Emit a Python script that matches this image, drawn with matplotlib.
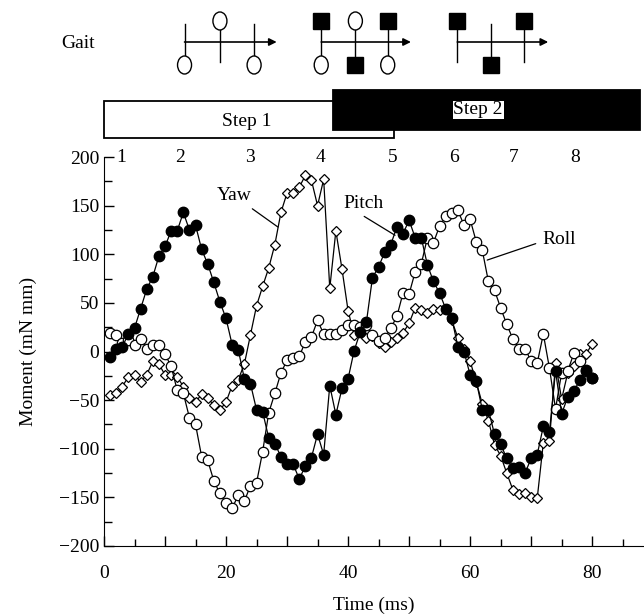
import numpy as np
import matplotlib
matplotlib.use("Agg")
import matplotlib.pyplot as plt
from matplotlib.patches import Rectangle, Ellipse
from matplotlib.ticker import MultipleLocator, FuncFormatter

plt.rcParams['font.family'] = ['Liberation Serif', 'DejaVu Serif']
plt.rcParams['font.size'] = 14

# time axis (ms), one sample per ms
t = np.arange(1, 81)

pitch = [-6, 3, 5, 18, 24, 44, 64, 77, 98, 108, 124, 124, 143, 125, 130, 105, 90, 71, 51, 34,
         7, 2, -28, -33, -60, -62, -89, -95, -108, -116, -116, -131, -118, -109, -85, -106, -35, -65, -38, -28,
         1, 20, 30, 76, 87, 102, 110, 128, 121, 135, 117, 117, 89, 72, 60, 44, 34, 5, 0, -24,
         -30, -60, -60, -85, -95, -110, -120, -119, -125, -110, -106, -77, -83, -20, -64, -47, -41, -29, -19, -27]

roll = [19, 17, 9, 12, 7, 13, 3, 7, 7, -3, -15, -40, -43, -68, -75, -108, -112, -133, -146, -156,
        -161, -148, -154, -138, -135, -103, -63, -43, -22, -9, -7, -5, 10, 15, 32, 18, 18, 18, 22, 27,
        27, 25, 27, 17, 11, 14, 24, 36, 60, 59, 82, 90, 117, 112, 129, 139, 142, 145, 130, 136,
        113, 104, 72, 63, 45, 28, 13, 3, 3, -10, -12, 18, -17, -59, -22, -20, -2, -10, -20, -27]

yaw = [-45, -43, -36, -26, -24, -31, -24, -10, -13, -24, -24, -26, -36, -48, -52, -44, -48, -55, -60, -52,
       -35, -29, -13, 17, 47, 67, 86, 110, 143, 163, 163, 169, 181, 176, 150, 177, 65, 124, 85, 42,
       17, 22, 14, 16, 9, 5, 10, 14, 19, 29, 45, 43, 40, 44, 43, 44, 32, 14, 3, -10,
       -31, -54, -71, -96, -107, -125, -142, -147, -145, -150, -151, -94, -92, -12, -49, -22, -15, -3, -3, 8]

# leg-number labels along the top, step bars and gait diagrams
leg_numbers = ['1', '2', '3', '4', '5', '6', '7', '8']
leg_number_t = [2.8, 12.5, 23.9, 35.4, 47.3, 57.4, 67.1, 77.2]
step1_t = (0, 47.6)
step2_t = (37.6, 87.8)
gait_x = [[13.2, 19.0, 24.6], [35.6, 41.2, 46.5], [57.9, 63.4, 68.8]]
gait_end = [28.3, 50.3, 72.8]
gait_top = [[None, 'o', None], ['s', 'o', 's'], ['s', None, 's']]
gait_bottom = [['o', None, 'o'], ['o', 's', 'o'], [None, 's', None]]

W, H = 644, 616
fig = plt.figure(figsize=(W / 100, H / 100), dpi=100)
ax = fig.add_axes([104 / W, (H - 546) / H, 540 / W, 389 / H])

ax.plot(t, yaw, '-', color='black', lw=0.9, marker='D', ms=5.5, mfc='white', mec='black', mew=0.9, zorder=3)
ax.plot(t, roll, '-', color='black', lw=0.9, marker='o', ms=7.5, mfc='white', mec='black', mew=0.9, zorder=4)
ax.plot(t, pitch, '-', color='black', lw=0.9, marker='o', ms=7.5, mfc='black', mec='black', zorder=5)

ax.set_xlim(0, 88.5)
ax.set_ylim(-200, 200)
ax.spines['top'].set_visible(False)
ax.spines['right'].set_visible(False)
ax.xaxis.set_major_locator(MultipleLocator(10))
ax.xaxis.set_minor_locator(MultipleLocator(5))
ax.xaxis.set_major_formatter(FuncFormatter(lambda v, p: f"{int(v)}" if int(v) % 20 == 0 else ""))
ax.yaxis.set_major_locator(MultipleLocator(50))
ax.yaxis.set_minor_locator(MultipleLocator(25))
ax.yaxis.set_major_formatter(FuncFormatter(lambda v, p: f"{int(v)}".replace('-', '\u2212')))
ax.tick_params(direction='in', length=7, width=1, labelsize=14)
ax.tick_params(which='minor', direction='in', length=5, width=1)
ax.tick_params(axis='x', pad=14)
ax.tick_params(axis='y', which='minor', length=6)
ax.set_xlabel('Time (ms)', fontsize=14, labelpad=10)
ax.set_ylabel('Moment (mN mm)', fontsize=14, labelpad=16)

for lab, tx in zip(leg_numbers, leg_number_t):
    ax.text(tx, 200, lab, ha='center', va='center', fontsize=14, clip_on=False)

ax.annotate('Yaw', xy=(28.5, 128), xytext=(21.3, 160), ha='center', va='center', fontsize=14,
            arrowprops=dict(arrowstyle='-', lw=0.9, color='black', relpos=(0.85, 0.0), shrinkA=2, shrinkB=0))
ax.annotate('Pitch', xy=(47.7, 119.5), xytext=(42.5, 152), ha='center', va='center', fontsize=14,
            arrowprops=dict(arrowstyle='-', lw=0.9, color='black', relpos=(0.35, 0.0), shrinkA=2, shrinkB=0))
ax.annotate('Roll', xy=(62.8, 94), xytext=(74.6, 115), ha='center', va='center', fontsize=14,
            arrowprops=dict(arrowstyle='-', lw=0.9, color='black', relpos=(0.0, 0.4), shrinkA=3, shrinkB=0))

# top panel: y in pixels from the top of the figure
top = fig.add_axes([104 / W, (H - 157) / H, 540 / W, 157 / H])
top.set_xlim(ax.get_xlim())
top.set_ylim(157, 0)
top.axis('off')

top.add_patch(Rectangle((step1_t[0], 101), step1_t[1] - step1_t[0], 37, facecolor='white',
                        edgecolor='black', lw=1.3, clip_on=False, zorder=2))
top.add_patch(Rectangle((step2_t[0], 90), step2_t[1] - step2_t[0], 40, facecolor='black',
                        edgecolor='black', lw=1.3, clip_on=False, zorder=3))
top.text(23.4, 122, 'Step 1', ha='center', va='center', fontsize=14, zorder=4)
top.text(61.3, 110, 'Step 2', ha='center', va='center', fontsize=14, zorder=4,
         bbox=dict(facecolor='white', edgecolor='none', pad=0.5))

top.text(-4.2, 44, 'Gait', ha='center', va='center', fontsize=14, clip_on=False)
cw, ch = 14 / 6.1, 18
for xs, xe, tops, bots in zip(gait_x, gait_end, gait_top, gait_bottom):
    top.annotate('', xy=(xe, 42), xytext=(xs[0], 42),
                 arrowprops=dict(arrowstyle='-|>', lw=1.2, color='black', mutation_scale=11,
                                 shrinkA=0, shrinkB=0))
    for x, mt, mb in zip(xs, tops, bots):
        top.plot([x, x], [24, 62], color='black', lw=1.0)
        for m, y in ((mt, 21), (mb, 65)):
            if m == 'o':
                top.add_patch(Ellipse((x, y), cw, ch, facecolor='white', edgecolor='black', lw=1.0, zorder=3))
            elif m == 's':
                top.plot(x, y, 's', ms=11, mfc='black', mec='black', zorder=3)

fig.savefig('out.png', dpi=100)
